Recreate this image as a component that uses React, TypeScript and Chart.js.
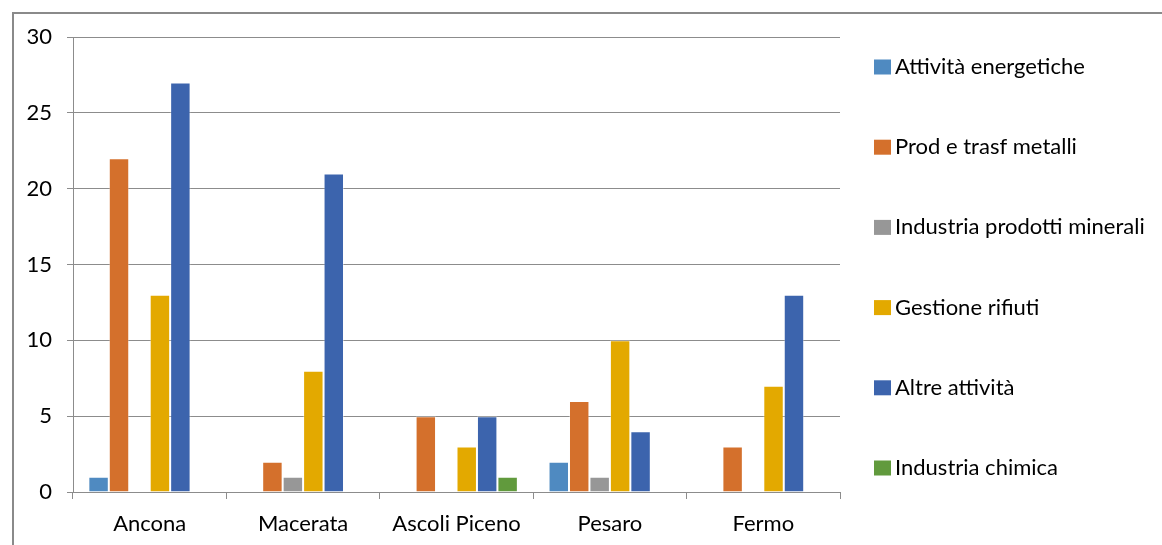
import { useEffect, useRef } from "react";
import { Chart, registerables } from "chart.js";

Chart.register(...registerables);

const categories = ["Ancona", "Macerata", "Ascoli Piceno", "Pesaro", "Fermo"];
const seriesNames = [
  "Attività energetiche",
  "Prod e trasf metalli",
  "Industria prodotti minerali",
  "Gestione rifiuti",
  "Altre attività",
  "Industria chimica",
];
const attivitaEnergetiche = [1, 0, 0, 2, 0];
const prodTrasfMetalli = [22, 2, 5, 6, 3];
const industriaProdottiMinerali = [0, 1, 0, 1, 0];
const gestioneRifiuti = [13, 8, 3, 10, 7];
const altreAttivita = [27, 21, 5, 4, 13];
const industriaChimica = [0, 0, 1, 0, 0];
const seriesColors = ["#4F8AC1", "#D4702C", "#979797", "#E3A900", "#3C64AD", "#619A3D"];
const yMin = 0;
const yMax = 30;
const yStep = 5;

const FONT = "Lato";
const FONT_SIZE = 22;
const GRID = "#8c8c8c";

const framePlugin = {
  id: "frame",
  beforeDraw(chart: any) {
    const ctx = chart.ctx;
    ctx.save();
    ctx.fillStyle = "#ffffff";
    ctx.fillRect(0, 0, chart.width, chart.height);
    ctx.strokeStyle = "#8a8a8a";
    ctx.lineWidth = 2;
    ctx.beginPath();
    ctx.moveTo(13, chart.height + 2);
    ctx.lineTo(13, 13);
    ctx.lineTo(chart.width + 2, 13);
    ctx.stroke();
    ctx.restore();
  },
};

const legendPlugin = {
  id: "sideLegend",
  afterDraw(chart: any) {
    const ctx = chart.ctx;
    ctx.save();
    const x0 = 874;
    const firstY = 67;
    const gap = 80.2;
    ctx.font = `${FONT_SIZE}px ${FONT}`;
    ctx.textBaseline = "middle";
    ctx.textAlign = "left";
    chart.data.datasets.forEach((ds: any, i: number) => {
      const cy = firstY + i * gap;
      ctx.fillStyle = ds.backgroundColor;
      ctx.fillRect(x0, cy - 7.5, 17, 15);
      ctx.fillStyle = "#000000";
      ctx.fillText(ds.label, x0 + 21, cy);
    });
    ctx.restore();
  },
};

export default function App() {
  const ref = useRef<HTMLCanvasElement | null>(null);
  useEffect(() => {
    if (!ref.current) return;
    const values = [
      attivitaEnergetiche,
      prodTrasfMetalli,
      industriaProdottiMinerali,
      gestioneRifiuti,
      altreAttivita,
      industriaChimica,
    ];
    const chart = new Chart(ref.current, {
      type: "bar",
      data: {
        labels: categories,
        datasets: values.map((v, i) => ({
          label: seriesNames[i],
          data: v,
          backgroundColor: seriesColors[i],
          borderColor: "rgba(255,255,255,0.35)",
          borderWidth: 1,
          barPercentage: 1,
          categoryPercentage: 0.8,
        })),
      },
      options: {
        animation: false,
        responsive: false,
        devicePixelRatio: 1,
        layout: { padding: { left: 13, top: 37, right: 322, bottom: 0 } },
        plugins: {
          legend: { display: false },
          tooltip: { enabled: false },
          title: { display: false },
        },
        scales: {
          x: {
            grid: {
              display: true,
              drawOnChartArea: false,
              offset: true,
              tickLength: 7,
              color: GRID,
            },
            border: { display: true, color: GRID, width: 1 },
            ticks: {
              font: { family: FONT, size: FONT_SIZE },
              color: "#000000",
              padding: 12,
              maxRotation: 0,
              autoSkip: false,
            },
            afterFit: (s: any) => {
              s.height = 53;
            },
          },
          y: {
            min: yMin,
            max: yMax,
            ticks: {
              stepSize: yStep,
              font: { family: FONT, size: FONT_SIZE },
              color: "#000000",
              padding: 15,
            },
            grid: { color: GRID, tickLength: 6, lineWidth: 1 },
            border: { display: true, color: GRID, width: 1 },
            afterFit: (s: any) => {
              s.width = 60;
            },
          },
        },
      },
      plugins: [framePlugin, legendPlugin],
    });
    return () => chart.destroy();
  }, []);
  return (
    <div style={{ position: "fixed", left: 0, top: 0, width: 1162, height: 545, background: "#fff" }}>
      <canvas ref={ref} width={1162} height={545} style={{ display: "block" }} />
    </div>
  );
}
